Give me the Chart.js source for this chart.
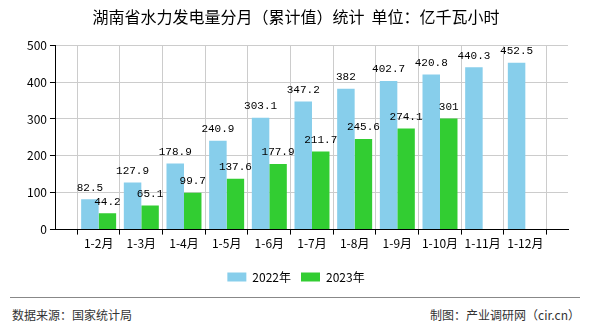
<!DOCTYPE html>
<html>
<head>
<meta charset="utf-8">
<script src="https://cdn.jsdelivr.net/npm/chart.js@4"></script>
<style>
  body { margin: 0; background: #fff; }
  #wrap { position: relative; width: 590px; height: 330px; font-family: "Noto Sans CJK SC", sans-serif; }
  #chartBox { position: absolute; left: 0; top: 0; width: 590px; height: 293px; }
  .rule { position: absolute; left: 10px; width: 570px; top: 297px; border-top: 1px solid #888; }
  .foot { position: absolute; top: 306px; font-size: 12px; color: #333; line-height: 18px; }
</style>
</head>
<body>
<div id="wrap">
  <div id="chartBox"><canvas id="chart" width="590" height="293"></canvas></div>
  <div class="rule"></div>
  <div class="foot" style="left:12px">数据来源：国家统计局</div>
  <div class="foot" style="right:10px">制图：产业调研网（cir.cn）</div>
</div>
<script>
const months = ["1-2月", "1-3月", "1-4月", "1-5月", "1-6月", "1-7月", "1-8月", "1-9月", "1-10月", "1-11月", "1-12月"];
const values2022 = [82.5, 127.9, 178.9, 240.9, 303.1, 347.2, 382, 402.7, 420.8, 440.3, 452.5];
const values2023 = [44.2, 65.1, 99.7, 137.6, 177.9, 211.7, 245.6, 274.1, 301, null, null];
const yTicks = [0, 100, 200, 300, 400, 500];

// empty slot at both ends so bar groups sit on the grid lines
const labels = [""].concat(months, [""]);
const pad = arr => [null].concat(arr, [null]);

const fontFamily = '"Noto Sans CJK SC", "Liberation Sans", sans-serif';

// draw the value above each bar
const valueLabels = {
    id: "valueLabels",
    afterDatasetsDraw(chart) {
        const ctx = chart.ctx;
        ctx.save();
        ctx.font = '11px "Liberation Mono", monospace';
        ctx.fillStyle = "#000";
        ctx.textAlign = "center";
        ctx.textBaseline = "bottom";
        chart.data.datasets.forEach((ds, i) => {
            const meta = chart.getDatasetMeta(i);
            meta.data.forEach((bar, j) => {
                const v = ds.data[j];
                if (v === null || v === undefined) return;
                ctx.fillText(String(v), bar.x, bar.y - 6);
            });
        });
        ctx.restore();
    }
};

new Chart(document.getElementById("chart"), {
    type: "bar",
    data: {
        labels: labels,
        datasets: [{
            label: "2022年",
            data: pad(values2022),
            backgroundColor: "#87CEEB"
        }, {
            label: "2023年",
            data: pad(values2023),
            backgroundColor: "#32CD32"
        }]
    },
    options: {
        responsive: false,
        animation: false,
        devicePixelRatio: 1,
        layout: { padding: { left: 24, right: 22, top: 0, bottom: 0 } },
        datasets: { bar: { categoryPercentage: 0.82, barPercentage: 1 } },
        plugins: {
            title: {
                display: true,
                text: "湖南省水力发电量分月（累计值）统计  单位：亿千瓦小时",
                color: "#000",
                font: { family: fontFamily, size: 16, weight: "normal" },
                padding: { top: 7, bottom: 19 }
            },
            legend: {
                position: "bottom",
                labels: {
                    boxWidth: 19,
                    boxHeight: 9,
                    color: "#000",
                    font: { family: fontFamily, size: 12 }
                }
            },
            tooltip: { enabled: false }
        },
        scales: {
            x: {
                offset: false,
                afterFit: axis => { axis.height += 8; },
                grid: { color: "#ccc", tickColor: "#000", tickLength: 5 },
                border: { color: "#000" },
                ticks: { autoSkip: false, maxRotation: 0, color: "#000", padding: 2, font: { family: fontFamily, size: 12 } }
            },
            y: {
                min: yTicks[0],
                max: yTicks[yTicks.length - 1],
                afterBuildTicks: axis => { axis.ticks = yTicks.map(v => ({ value: v })); },
                grid: { color: "#ccc", tickColor: "#000", tickLength: 6 },
                border: { color: "#000" },
                ticks: { color: "#000", padding: 3, font: { family: fontFamily, size: 12 } }
            }
        }
    },
    plugins: [valueLabels]
});
</script>
</body>
</html>
